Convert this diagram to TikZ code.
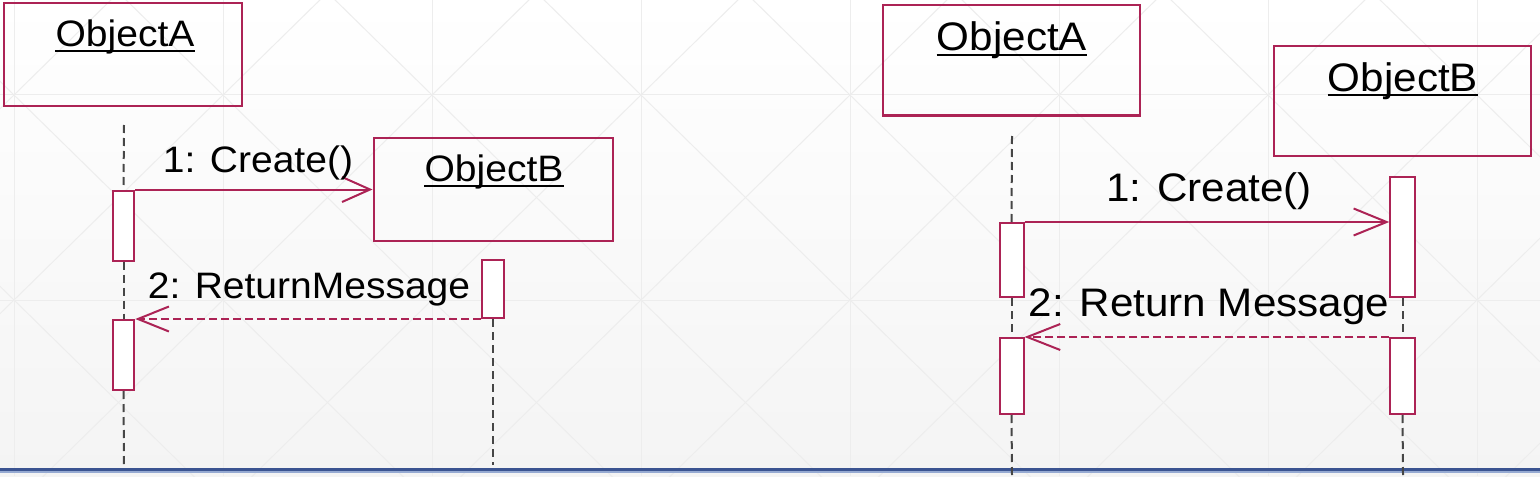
\documentclass[tikz,border=0pt]{standalone}
\usepackage{fontspec}
\setmainfont{Liberation Sans}
\newfontfamily\labfont[FakeStretch=1.06]{Liberation Sans}
\usetikzlibrary{arrows.meta,calc}
\definecolor{umlred}{RGB}{172,35,85}
\definecolor{lifec}{RGB}{70,70,70}
\definecolor{gridc}{RGB}{237,237,237}
\definecolor{bgbot}{RGB}{244,244,244}
\definecolor{slideblue}{RGB}{59,84,145}
\definecolor{slidelight}{RGB}{150,170,210}
\begin{document}
\begin{tikzpicture}[x=0.5pt,y=-0.5pt,
  objbox/.style={draw=umlred, line width=1pt, inner sep=0pt},
  actbox/.style={draw=umlred, fill=white, line width=1pt, inner sep=0pt},
  lifeline/.style={draw=lifec, line width=1pt, dash pattern=on 4pt off 2.5pt},
  callmsg/.style={draw=umlred, line width=1pt},
  retmsg/.style={draw=umlred, line width=1pt, dash pattern=on 4pt off 2pt},
  lblL/.style={inner sep=0pt, anchor=base, font=\labfont\fontsize{18.4}{20}\selectfont},
  lblR/.style={inner sep=0pt, anchor=base, font=\labfont\fontsize{19.9}{22}\selectfont},
  uline/.style={draw=black, line width=1pt}]
\useasboundingbox (0,0) rectangle (1540,476);
% slide background
\begin{scope}
\clip (0,0) rectangle (1540,476);
\shade[top color=white, bottom color=bgbot] (0,0) rectangle (1540,476);
\foreach \i in {-1,...,7} {
  \draw[gridc, line width=0.5pt] ({14+209*\i},0) -- ({14+209*\i},476);
  \foreach \j in {-1,0,1} {
    \draw[gridc, line width=0.5pt] ({14+209*\i},{95+205*\j}) -- ({14+209*(\i+1)},{95+205*(\j+1)});
    \draw[gridc, line width=0.5pt] ({14+209*(\i+1)},{95+205*\j}) -- ({14+209*\i},{95+205*(\j+1)});
  }
}
\draw[gridc, line width=0.5pt] (0,95) -- (1540,95);
\draw[gridc, line width=0.5pt] (0,300) -- (1540,300);
\end{scope}
\draw[slideblue, line width=1.25pt] (0,469.5) -- (1540,469.5);
\draw[slidelight, line width=0.75pt] (0,471.8) -- (1540,471.8);

% ===== Left diagram =====
\node[objbox, minimum width=119pt, minimum height=51.5pt] (LoA) at (123,54.5) {};
\node[lblL] (LoAt) at (125,47) {ObjectA};
\draw[uline] ($(LoAt.base west)+(0,4.5)$) -- ($(LoAt.base east)+(0,4.5)$);
\node[actbox, minimum width=10.75pt, minimum height=35pt] (LA1) at (123.5,225.5) {};
\node[actbox, minimum width=10.75pt, minimum height=35pt] (LA2) at (123.5,355) {};
\node[objbox, minimum width=119.5pt, minimum height=51.5pt] (LoB) at (493,189.5) {};
\node[lblL] (LoBt) at (494,181.5) {ObjectB};
\draw[uline] ($(LoBt.base west)+(0,4.5)$) -- ($(LoBt.base east)+(0,4.5)$);
\node[actbox, minimum width=11pt, minimum height=29pt] (LB1) at (493,289) {};
\coordinate (LlAtop) at (124,125);
\coordinate (LlAbot) at (124,465);
\coordinate (LlBbot) at (493,465);
\draw[lifeline] (LlAtop) -- (LA1.north);
\draw[lifeline] (LA1.south) -- (LA2.north);
\draw[lifeline] (LA2.south) -- (LlAbot);
\draw[lifeline] (LB1.south) -- (LlBbot);
\draw[callmsg, -{Straight Barb[length=14pt,width=12.5pt]}] (LA1.north east) -- (LA1.north east -| LoB.west);
\node[lblL] (Lc) at (258,172) {1: Create()};
\draw[retmsg, -{Straight Barb[length=15.5pt,width=12.5pt]}] (LA2.north east -| LB1.west) -- (LA2.north east);
\node[lblL] (Lr) at (309,298) {2: ReturnMessage};

% ===== Right diagram =====
\node[objbox, minimum width=128.5pt, minimum height=55pt] (RoA) at (1011,60.5) {};
\node[lblR] (RoAt) at (1012,51) {ObjectA};
\draw[uline] ($(RoAt.base west)+(0,4.5)$) -- ($(RoAt.base east)+(0,4.5)$);
\node[objbox, minimum width=128.5pt, minimum height=55pt] (RoB) at (1402.5,101) {};
\node[lblR] (RoBt) at (1403,91) {ObjectB};
\draw[uline] ($(RoBt.base west)+(0,4.5)$) -- ($(RoBt.base east)+(0,4.5)$);
\node[actbox, minimum width=12pt, minimum height=37pt] (RA1) at (1011.5,260) {};
\node[actbox, minimum width=12pt, minimum height=38pt] (RA2) at (1011.5,376) {};
\node[actbox, minimum width=12.25pt, minimum height=60pt] (RB1) at (1402.5,237) {};
\node[actbox, minimum width=12.25pt, minimum height=38pt] (RB2) at (1402.5,376) {};
\coordinate (RlAtop) at (1012,136);
\coordinate (RlAbot) at (1012,476);
\coordinate (RlBbot) at (1403,476);
\draw[lifeline] (RlAtop) -- (RA1.north);
\draw[lifeline] (RA1.south) -- (RA2.north);
\draw[lifeline] (RA2.south) -- (RlAbot);
\draw[lifeline] (RB1.south) -- (RB2.north);
\draw[lifeline] (RB2.south) -- (RlBbot);
\draw[callmsg, -{Straight Barb[length=16.5pt,width=13.5pt]}] (RA1.north east) -- (RA1.north east -| RB1.west);
\node[lblR] (Rc) at (1209,201) {1: Create()};
\draw[retmsg, -{Straight Barb[length=16.5pt,width=13pt]}] (RB2.north west) -- (RB2.north west -| RA2.east);
\node[lblR] (Rr) at (1209,316) {2: Return Message};
\end{tikzpicture}
\end{document}
